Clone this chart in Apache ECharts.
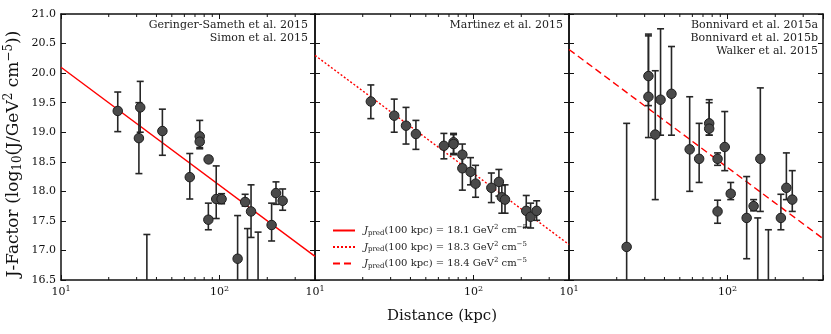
<!DOCTYPE html>
<html>
<head>
<meta charset="utf-8">
<script src="https://cdn.jsdelivr.net/npm/echarts@6/dist/echarts.min.js"></script>
<style>
  html, body { margin: 0; padding: 0; background: #fff; }
  #chart { width: 831px; height: 334px; }
</style>
</head>
<body>
<div id="chart"></div>
<script>
// panel 1: Geringer-Sameth 2015 / Simon 2015
const gsDist = [22.8, 31.6, 31.0, 34.8, 43.6, 64.9, 75.0, 75.0, 85.3, 85.0, 95.3, 103, 130, 145, 150, 158, 175, 213, 227, 250]
const gsJ = [19.36, 19.42, 18.90, 16.20, 19.02, 18.24, 18.93, 18.84, 18.54, 17.52, 17.87, 17.87, 16.86, 17.82, 16.10, 17.66, 16.00, 17.43, 17.97, 17.84]
const gsHi = [19.68, 19.86, 19.50, 17.27, 19.39, 18.64, 19.20, 18.96, 18.59, 17.80, 18.43, 17.96, 17.59, 17.95, 17.37, 18.11, 17.31, 17.80, 18.16, 18.04]
const gsLo = [19.01, 19.00, 18.30, 15.00, 18.61, 17.87, 18.74, 18.72, 18.49, 17.35, 17.54, 17.79, 16.00, 17.75, 15.00, 17.22, 15.00, 17.16, 17.78, 17.68]

// panel 2: Martinez 2015
const mDist = [22.5, 31.6, 37.5, 43.3, 65.0, 74.8, 74.8, 85.0, 85.0, 95.7, 103, 129.5, 144.5, 150.8, 158, 215, 229, 250]
const mJ = [19.52, 19.28, 19.11, 18.97, 18.77, 18.83, 18.80, 18.62, 18.39, 18.33, 18.13, 18.06, 18.16, 17.90, 17.86, 17.67, 17.57, 17.67]
const mHi = [19.80, 19.56, 19.42, 19.20, 18.98, 18.98, 18.96, 18.80, 18.62, 18.57, 18.44, 18.31, 18.37, 18.10, 18.11, 17.93, 17.80, 17.84]
const mLo = [19.23, 19.00, 18.80, 18.71, 18.55, 18.62, 18.64, 18.44, 18.02, 18.11, 17.90, 17.81, 17.92, 17.63, 17.63, 17.39, 17.38, 17.51]

// panel 3: Bonnivard 2015a/b, Walker 2015
const bDist = [23.1, 31.7, 31.7, 35.0, 37.8, 44.3, 57.7, 66.2, 76.6, 76.6, 86.5, 86.5, 96.0, 104.7, 132, 146, 155, 161, 181, 217, 235, 256]
const bJ = [17.06, 19.95, 19.60, 18.96, 19.55, 19.65, 18.71, 18.55, 19.15, 19.06, 18.55, 17.66, 18.75, 17.96, 17.55, 17.75, 16.30, 18.55, 16.20, 17.55, 18.06, 17.86]
const bHi = [19.15, 20.66, 20.63, 20.04, 20.75, 20.45, 19.60, 19.15, 19.55, 19.50, 18.65, 17.85, 19.35, 18.15, 18.25, 17.86, 17.55, 19.75, 17.35, 17.95, 18.65, 18.35]
const bLo = [15.50, 19.45, 18.91, 17.86, 18.95, 18.95, 18.00, 18.15, 18.95, 18.95, 18.44, 17.46, 18.35, 17.86, 16.86, 17.67, 15.00, 17.66, 15.00, 17.35, 17.86, 17.66]

// fitted J ~ D^-2 lines, end points read at 10 and 400 kpc
const fitDist = [10, 400]
const fitGS = [20.1, 16.9]
const fitM = [20.3, 17.1]
const fitB = [20.4, 17.2]
const predJ = ['18.1', '18.3', '18.4']

const refs = [
  ['Geringer-Sameth et al. 2015', 'Simon et al. 2015'],
  ['Martinez et al. 2015'],
  ['Bonnivard et al. 2015a', 'Bonnivard et al. 2015b', 'Walker et al. 2015']
]

const minorTicks = [20, 30, 40, 50, 60, 70, 80, 90, 200, 300]
const xMin = 10
const xMax = 400
const yMin = 16.5
const yMax = 21.0
const yStep = 0.5

const FONT = 'DejaVu Serif'
const panelLeft = [61, 315, 569]
const panelWidth = 254

const chart = echarts.init(document.getElementById('chart'))

const isPow10 = v => Math.abs(Math.log10(v) - Math.round(Math.log10(v))) < 1e-6

const xAxes = []
const yAxes = []
panelLeft.forEach((l, i) => {
  xAxes.push({
    type: 'log', logBase: 10, gridIndex: i, min: xMin, max: xMax, position: 'bottom',
    axisLine: { lineStyle: { color: '#111', width: 1.5 } },
    axisTick: { inside: true, length: 5, lineStyle: { color: '#111', width: 1 } },
    splitLine: { show: false },
    axisLabel: {
      margin: 5, color: '#111', fontFamily: FONT, fontSize: 11,
      formatter: v => isPow10(v) ? '10{sup|' + Math.round(Math.log10(v)) + '}' : '',
      rich: { sup: { fontFamily: FONT, fontSize: 8, padding: [0, 0, 7, 0], color: '#111' } }
    }
  })
  yAxes.push({
    type: 'value', gridIndex: i, min: yMin, max: yMax, interval: yStep, position: 'left',
    axisLine: { show: true, lineStyle: { color: '#111', width: 1.5 } },
    axisTick: { show: true, inside: true, length: 5, lineStyle: { color: '#111', width: 1 } },
    splitLine: { show: false },
    axisLabel: {
      show: i === 0, margin: 5, color: '#111', fontFamily: FONT, fontSize: 11,
      formatter: v => v.toFixed(1)
    }
  })
})
panelLeft.forEach((l, i) => {
  xAxes.push({
    type: 'log', logBase: 10, gridIndex: i, min: xMin, max: xMax, position: 'top',
    axisLine: { lineStyle: { color: '#111', width: 1.5 } },
    axisTick: { inside: true, length: 5, lineStyle: { color: '#111', width: 1 } },
    axisLabel: { show: false },
    splitLine: { show: false }
  })
  yAxes.push({
    type: 'value', gridIndex: i, min: yMin, max: yMax, interval: yStep, position: 'right',
    axisLine: { show: true, lineStyle: { color: '#111', width: 1.5 } },
    axisTick: { show: true, inside: true, length: 5, lineStyle: { color: '#111', width: 1 } },
    axisLabel: { show: false },
    splitLine: { show: false }
  })
})

yAxes[0].name = 'J-Factor (log{sub|10}(J/GeV{sup|2} cm{sup|−5}))'
yAxes[0].nameLocation = 'middle'
yAxes[0].nameGap = 37
yAxes[0].nameRotate = 90
yAxes[0].nameTextStyle = {
  fontFamily: FONT, fontSize: 17, color: '#111', padding: [0, 14, 0, 0],
  rich: {
    sub: { fontFamily: FONT, fontSize: 12, padding: [8, 0, 0, 0], color: '#111' },
    sup: { fontFamily: FONT, fontSize: 12, padding: [0, 0, 9, 0], color: '#111' }
  }
}
xAxes[1].name = 'Distance (kpc)'
xAxes[1].nameLocation = 'middle'
xAxes[1].nameGap = 29
xAxes[1].nameTextStyle = { fontFamily: FONT, fontSize: 15, color: '#111' }

// vertical error bars with caps
function errorBars (idx, dist, lo, hi) {
  return {
    type: 'custom', xAxisIndex: idx, yAxisIndex: idx, clip: true, z: 3, silent: true,
    data: dist.map((d, k) => [d, lo[k], hi[k]]),
    renderItem: (params, api) => {
      const top = api.coord([api.value(0), api.value(2)])
      const bot = api.coord([api.value(0), api.value(1)])
      const w = 3.5
      const st = { stroke: '#262626', lineWidth: 1.6 }
      return {
        type: 'group',
        children: [
          { type: 'line', shape: { x1: top[0], y1: top[1], x2: bot[0], y2: bot[1] }, style: st },
          { type: 'line', shape: { x1: top[0] - w, y1: top[1], x2: top[0] + w, y2: top[1] }, style: st },
          { type: 'line', shape: { x1: bot[0] - w, y1: bot[1], x2: bot[0] + w, y2: bot[1] }, style: st }
        ]
      }
    }
  }
}

// minor log ticks on top and bottom edges
function minorTickSeries (idx) {
  return {
    type: 'custom', xAxisIndex: idx, yAxisIndex: idx, z: 5, silent: true,
    data: minorTicks.map(v => [v, yMin]),
    renderItem: (params, api) => {
      const p = api.coord([api.value(0), yMin])
      const cs = params.coordSys
      const st = { stroke: '#111', lineWidth: 1 }
      return {
        type: 'group',
        children: [
          { type: 'line', shape: { x1: p[0], y1: cs.y + cs.height, x2: p[0], y2: cs.y + cs.height - 3 }, style: st },
          { type: 'line', shape: { x1: p[0], y1: cs.y, x2: p[0], y2: cs.y + 3 }, style: st }
        ]
      }
    }
  }
}

function points (idx, dist, j) {
  return {
    type: 'scatter', xAxisIndex: idx, yAxisIndex: idx, z: 4, silent: true,
    symbolSize: 9.5,
    itemStyle: { color: '#4a4a4a', borderColor: '#1e1e1e', borderWidth: 1, opacity: 1 },
    data: dist.map((d, k) => [d, j[k]])
  }
}

function fitLine (idx, name, vals, type) {
  return {
    type: 'line', name: name, xAxisIndex: idx, yAxisIndex: idx, z: 2, silent: true,
    symbol: 'none',
    lineStyle: { color: '#ff0000', width: 1.4, type: type },
    itemStyle: { color: '#ff0000' },
    data: fitDist.map((d, k) => [d, vals[k]])
  }
}

const graphics = []
const refRight = [308, 563, 818]
refs.forEach((lines, i) => {
  lines.forEach((t, k) => {
    graphics.push({
      type: 'text', x: refRight[i], y: 25 + k * 13.3,
      style: { text: t, align: 'right', verticalAlign: 'middle', fontFamily: FONT, fontSize: 11, fill: '#222' }
    })
  })
})

const option = {
  animation: false,
  backgroundColor: '#fff',
  grid: panelLeft.map(l => ({ left: l, width: panelWidth, top: 14, height: 266 })),
  xAxis: xAxes,
  yAxis: yAxes,
  legend: {
    left: 327, top: 219, orient: 'vertical', itemGap: 4,
    itemWidth: 22, itemHeight: 12, selectedMode: false,
    itemStyle: { opacity: 0 },
    data: predJ,
    formatter: name => '{j|J}{sub|pred}(100 kpc) = ' + name + ' GeV{sup|2} cm{sup|−5}',
    textStyle: {
      fontFamily: FONT, fontSize: 10, color: '#222', padding: [0, 0, 0, 4],
      rich: {
        j: { fontFamily: FONT, fontSize: 10, fontStyle: 'italic', color: '#222' },
        sub: { fontFamily: FONT, fontSize: 7, padding: [5, 0, 0, 0], color: '#222' },
        sup: { fontFamily: FONT, fontSize: 7, padding: [0, 0, 6, 0], color: '#222' }
      }
    }
  },
  graphic: graphics,
  series: [
    minorTickSeries(0), minorTickSeries(1), minorTickSeries(2),
    fitLine(0, predJ[0], fitGS, 'solid'),
    fitLine(1, predJ[1], fitM, [2, 2]),
    fitLine(2, predJ[2], fitB, [7, 4]),
    errorBars(0, gsDist, gsLo, gsHi),
    errorBars(1, mDist, mLo, mHi),
    errorBars(2, bDist, bLo, bHi),
    points(0, gsDist, gsJ),
    points(1, mDist, mJ),
    points(2, bDist, bJ)
  ]
}

chart.setOption(option)
</script>
</body>
</html>
